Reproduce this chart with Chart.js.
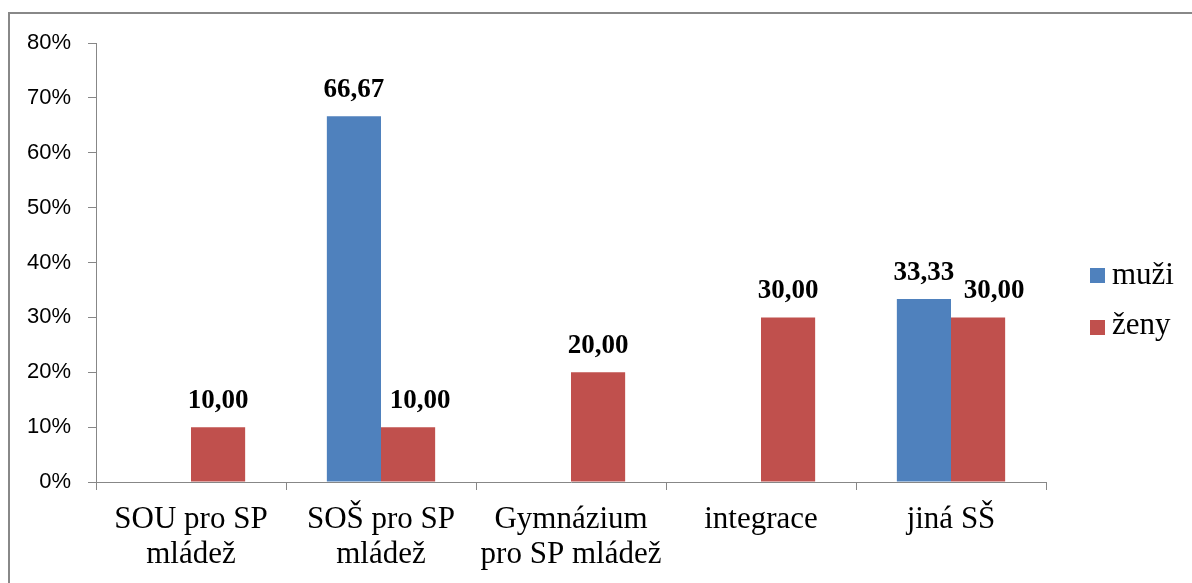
<!DOCTYPE html>
<html>
<head>
<meta charset="utf-8">
<script src="https://cdn.jsdelivr.net/npm/chart.js@4.4.0/dist/chart.umd.min.js"></script>
<style>
  html, body { margin: 0; padding: 0; background: #fff; overflow: hidden; }
  #frame {
    position: absolute; left: 8px; top: 12px;
    width: 1400px; height: 800px;
    border: 2px solid #888;
    box-sizing: border-box;
  }
  #wrap { position: absolute; left: 0; top: 0; width: 1192px; height: 583px; }
</style>
</head>
<body>
<div id="frame"></div>
<div id="wrap"><canvas id="skolyChart"></canvas></div>
<script>
// kategorie a hodnoty (v %)
const kategorie = [
    ['SOU pro SP', 'mládež'],
    ['SOŠ pro SP', 'mládež'],
    ['Gymnázium', 'pro SP mládež'],
    'integrace',
    'jiná SŠ'
];
const muzi = [0, 66.67, 0, 0, 33.33];
const zeny = [10, 10, 20, 30, 30];
const nazvySerii = ['muži', 'ženy'];
const barvy = ['#4F81BD', '#C0504D'];

const serif = "'Liberation Serif', 'Times New Roman', serif";
const sans = "'Liberation Sans', Arial, sans-serif";

// popisky hodnot nad sloupci (nektere posunute doprava jako v originale)
const hodnotyPlugin = {
    id: 'hodnoty',
    afterDatasetsDraw(chart, args, opts) {
        const ctx = chart.ctx;
        const posun = opts.posun || {};
        ctx.save();
        ctx.font = 'bold 27px ' + serif;
        ctx.fillStyle = '#000';
        ctx.textAlign = 'center';
        ctx.textBaseline = 'alphabetic';
        chart.data.datasets.forEach((ds, i) => {
            const meta = chart.getDatasetMeta(i);
            meta.data.forEach((bar, j) => {
                const v = ds.data[j];
                if (!v) return;
                const dx = (posun[i] && posun[i][j]) || 0;
                ctx.fillText(v.toFixed(2).replace('.', ','), bar.x + dx, bar.y - 19);
            });
        });
        ctx.restore();
    }
};

// legenda vpravo
const legendaPlugin = {
    id: 'legenda',
    afterDraw(chart) {
        const ctx = chart.ctx;
        ctx.save();
        ctx.font = '31px ' + serif;
        ctx.textBaseline = 'alphabetic';
        ctx.textAlign = 'left';
        chart.data.datasets.forEach((ds, i) => {
            ctx.fillStyle = ds.backgroundColor;
            ctx.fillRect(1090, 268 + i * 52, 15, 15);
            ctx.fillStyle = '#000';
            ctx.fillText(ds.label, 1112, 284 + i * 50);
        });
        ctx.restore();
    }
};

const osa = '#878787';

new Chart(document.getElementById('skolyChart'), {
    type: 'bar',
    data: {
        labels: kategorie,
        datasets: [
            { label: nazvySerii[0], data: muzi, backgroundColor: barvy[0] },
            { label: nazvySerii[1], data: zeny, backgroundColor: barvy[1] }
        ]
    },
    options: {
        responsive: true,
        maintainAspectRatio: false,
        animation: false,
        layout: { padding: { top: 43, right: 146, bottom: 0, left: 0 } },
        datasets: {
            bar: { barPercentage: 1, categoryPercentage: 0.57 }
        },
        plugins: {
            legend: { display: false },
            tooltip: { enabled: false },
            hodnoty: { posun: { 1: { 1: 12, 4: 16 } } }
        },
        scales: {
            x: {
                afterFit(scale) { scale.height = 101; },
                grid: {
                    drawOnChartArea: false,
                    drawTicks: true,
                    tickLength: 8,
                    color: osa,
                    offset: true
                },
                border: { display: true, color: osa },
                ticks: {
                    color: '#000',
                    padding: 12,
                    maxRotation: 0,
                    autoSkip: false,
                    font: { family: serif, size: 31, lineHeight: 1.13 }
                }
            },
            y: {
                min: 0,
                max: 80,
                afterFit(scale) { scale.width = 96; },
                grid: {
                    drawOnChartArea: false,
                    drawTicks: true,
                    tickLength: 8,
                    color: osa
                },
                border: { display: true, color: osa },
                ticks: {
                    stepSize: 10,
                    color: '#000',
                    padding: 17,
                    font: { family: sans, size: 22 },
                    callback: v => v + '%'
                }
            }
        }
    },
    plugins: [hodnotyPlugin, legendaPlugin]
});
</script>
</body>
</html>
